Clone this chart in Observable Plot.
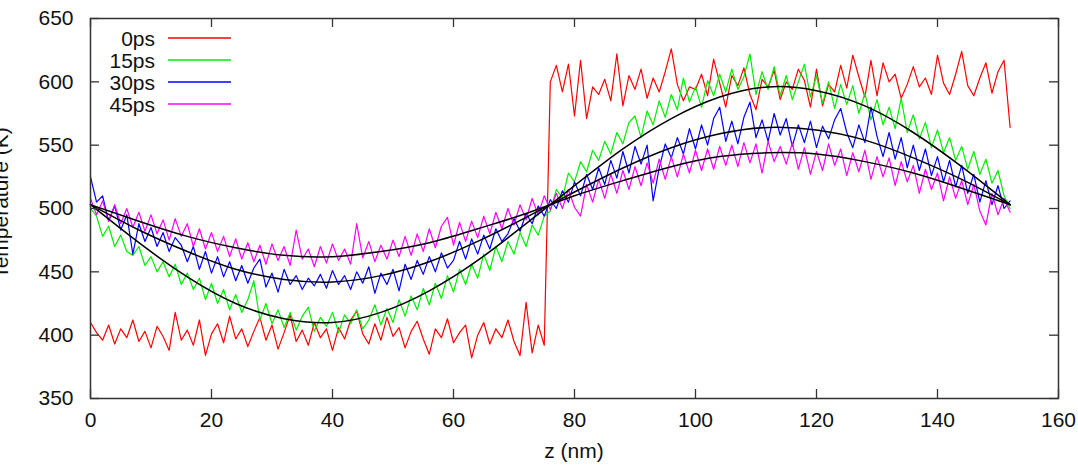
<!DOCTYPE html>
<html>
<head>
<meta charset="utf-8">
<script src="https://cdn.jsdelivr.net/npm/d3@7"></script>
<script src="https://cdn.jsdelivr.net/npm/@observablehq/plot@0.6"></script>
<style>
  html, body { margin: 0; padding: 0; background: #fff; }
</style>
</head>
<body>
<div id="chart"></div>
<script>
// ---- data ----
const seriesNames = ["0ps", "15ps", "30ps", "45ps"];
const seriesColors = ["#ff0000", "#00ee00", "#0000ff", "#ff00ff"];
const xTicks = [0, 20, 40, 60, 80, 100, 120, 140, 160];
const yTicks = [350, 400, 450, 500, 550, 600, 650];
const xLabel = "z (nm)";
const yLabel = "Temperature (K)";

// sample positions (nm), one per nm
const zPos = d3.range(0, 153);

const t0ps = [410,402,396,408,393,405,398,412,395,403, 390,407,399,388,418,396,404,392,412,384,
  401,409,394,415,397,405,391,403,414,396, 408,389,402,416,395,404,392,410,398,405,
  388,406,397,412,419,401,393,409,396,414, 399,406,390,403,411,397,385,405,398,413,
  394,402,408,382,400,410,393,405,398,412, 395,384,426,386,408,392, 600,613,592,614,
  573,617,571,596,590,602,585,622,581,605, 594,610,587,603,592,608,626,598,585,596,
  594,606,589,618,599,580,605,597,611,590, 578,602,596,609,586,600,594,610,601,580,
  610,581,598,592,613,595,621,604,588,617, 589,615,600,606,587,598,612,596,603,590,
  621,599,590,606,624,597,589,603,615,591, 608,617,564];

const t15ps = [500,494,478,486,470,479,466,463,470,455, 462,450,458,446,456,440,449,436,445,428,
  441,425,436,420,432,418,428,443,412,425, 409,420,406,418,404,415,422,403,414,407,
  418,402,416,409,420,405,412,424,408,421, 410,428,415,431,420,437,424,441,429,447,
  434,452,440,456,445,464,451,470,458,474, 464,481,470,487,479,494,498,515,508,528,
  521,537,529,546,538,553,543,560,551,568, 573,556,577,566,585,572,590,578,603,584,
  596,580,601,589,606,592,610,594,604,622, 590,608,594,612,589,605,586,600,614,588,
  605,583,600,579,598,582,597,575,591,570, 586,566,580,563,587,560,574,555,568,548,
  562,544,556,538,549,531,545,527,539,520, 530,510,500];

const t30ps = [525,505,510,490,502,483,495,464,488,474, 485,470,481,466,477,471,458,470,452,466,
  449,462,446,458,443,455,441,453,460,438, 449,434,452,440,447,436,445,439,448,437,
  451,440,447,436,450,441,454,433,449,440, 452,435,456,444,459,448,462,450,465,453,
  459,474,460,476,464,479,468,484,474,480, 492,482,496,488,502,494,507,500,514,505,
  521,510,527,515,532,519,538,524,545,528, 549,535,550,506,532,551,540,556,543,563,
  547,566,550,571,580,553,569,551,572,584, 556,570,553,575,558,571,549,566,552,569,
  548,565,555,570,579,560,548,566,552,580, 557,541,560,539,556,532,550,530,547,526,
  541,521,538,517,534,512,527,505,522,503, 518,500,506];

const t45ps = [508,495,506,490,503,488,500,485,497,482, 495,480,491,475,492,478,488,470,484,468,
  481,466,478,462,476,460,473,458,471,456, 472,459,470,455,483,460,468,454,470,457,
  472,459,468,456,488,461,474,458,471,460, 475,462,478,463,480,466,484,469,486,493,
  471,489,474,490,477,494,480,497,484,500, 487,503,491,508,495,510,499,512,500,515,
  501,494,519,505,523,508,527,512,530,515, 533,518,536,520,539,523,541,525,543,528,
  546,530,547,531,549,534,550,533,552,536, 551,528,553,537,549,535,552,531,548,527,
  545,530,551,534,547,526,544,529,546,523, 541,525,540,518,537,521,534,512,531,515,
  528,506,525,508,522,503,519,498,487,512, 495,508,497];

// smooth fitted curves (black), read every 8 nm
const fitZ = [0,8,16,24,32,40,48,56,64,72,80,88,96,104,112,120,128,136,144,152];
const fit15 = [503,473,446,425,413,410,418,435,459,488,518,547,571,588,596,593,581,560,533,503];
const fit30 = [503,483,466,452,444,442,447,458,474,493,513,532,548,559,564,562,554,540,523,503];
const fit45 = [503,490,478,469,463,462,466,473,484,496,510,522,533,541,544,543,537,528,516,503];

// ---- build tables ----
const seriesValues = [t0ps, t15ps, t30ps, t45ps];
const tables = seriesValues.map(vals => vals.map((T, i) => ({z: zPos[i], T})));
const fits = [fit15, fit30, fit45].map(vals => vals.map((T, i) => ({z: fitZ[i], T})));

const W = 1078, H = 466;
const mL = 90, mR = 20, mT = 18, mB = 68;
const plotW = W - mL - mR, plotH = H - mT - mB;
const tickLen = 9;
const FS = 21;
const FONT = "'Liberation Sans', Arial, Helvetica, sans-serif";

const chart = Plot.plot({
  width: W,
  height: H,
  marginLeft: mL, marginRight: mR, marginTop: mT, marginBottom: mB,
  x: {domain: [0, 160]},
  y: {domain: [350, 650]},
  style: {fontFamily: FONT, fontSize: FS + "px", background: "#fff", color: "#111", overflow: "hidden"},
  marks: [
    Plot.axisX({ticks: xTicks, tickSize: 0, tickPadding: 14, label: null, tickFormat: d => String(d), fontSize: FS}),
    Plot.axisY({ticks: yTicks, tickSize: 0, tickPadding: 17, label: null, tickFormat: d => String(d), fontSize: FS}),
    ...tables.map((tab, k) => Plot.line(tab, {x: "z", y: "T", stroke: seriesColors[k], strokeWidth: 1.2})),
    ...fits.map(tab => Plot.line(tab, {x: "z", y: "T", stroke: "#000", strokeWidth: 1.5, curve: "natural"})),
    Plot.tickX(xTicks, {x: d => d, insetTop: plotH - tickLen, stroke: "#333", strokeWidth: 1.3}),
    Plot.tickX(xTicks, {x: d => d, insetBottom: plotH - tickLen, stroke: "#333", strokeWidth: 1.3}),
    Plot.tickY(yTicks, {y: d => d, insetRight: plotW - tickLen, stroke: "#333", strokeWidth: 1.3}),
    Plot.tickY(yTicks, {y: d => d, insetLeft: plotW - tickLen, stroke: "#333", strokeWidth: 1.3}),
    Plot.frame({stroke: "#333", strokeWidth: 1.5})
  ]
});

const svg = d3.select(chart);

// axis titles
svg.append("text")
  .attr("x", mL + plotW / 2).attr("y", 458)
  .attr("text-anchor", "middle")
  .attr("font-family", FONT).attr("font-size", FS).attr("fill", "#111")
  .text(xLabel);
svg.append("text")
  .attr("transform", "translate(8,203) rotate(-90)")
  .attr("text-anchor", "middle")
  .attr("font-family", FONT).attr("font-size", FS).attr("fill", "#111")
  .text(yLabel);

// legend (top-left, inside the frame)
const lg = svg.append("g");
seriesNames.forEach((name, i) => {
  const y = 38 + 22 * i;
  lg.append("text")
    .attr("x", 155).attr("y", y).attr("dy", "0.36em")
    .attr("text-anchor", "end")
    .attr("font-family", FONT).attr("font-size", FS).attr("fill", "#111")
    .text(name);
  lg.append("line")
    .attr("x1", 168).attr("x2", 231).attr("y1", y).attr("y2", y)
    .attr("stroke", seriesColors[i]).attr("stroke-width", 1.4);
});

document.getElementById("chart").appendChild(chart);
</script>
</body>
</html>
